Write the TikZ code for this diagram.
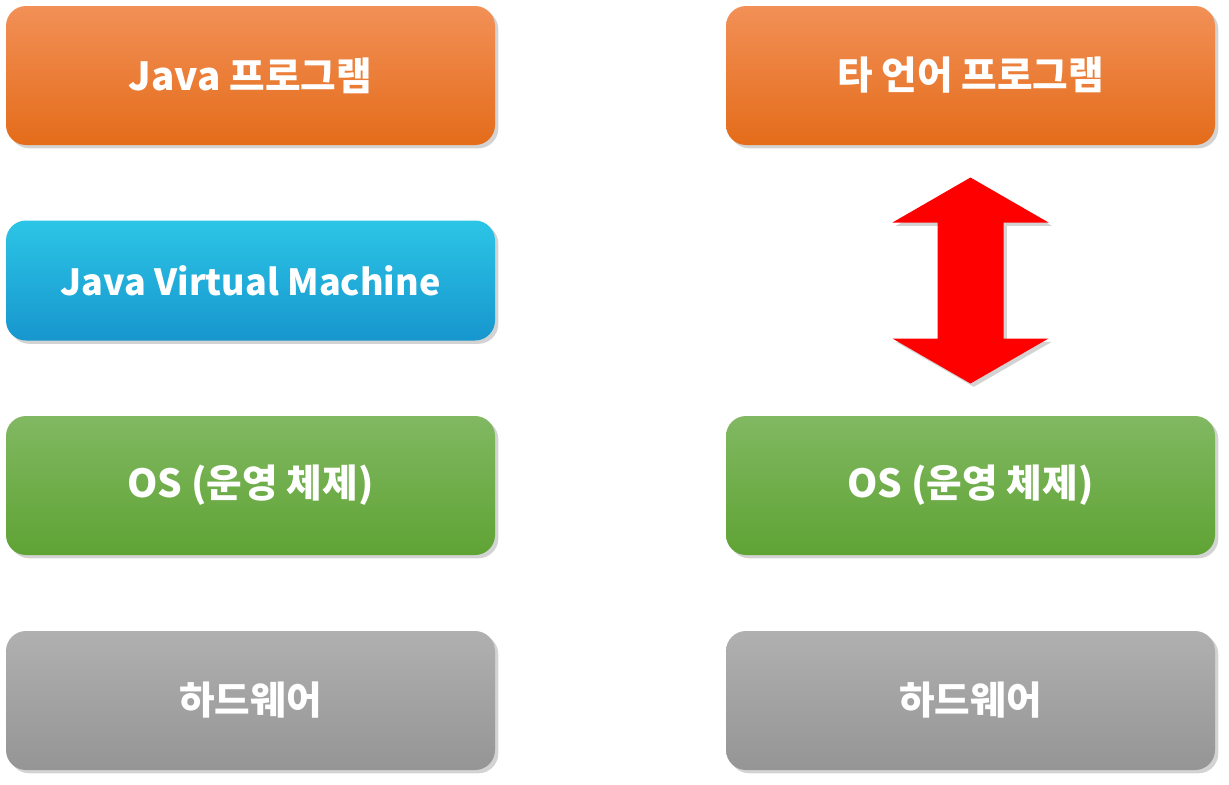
\documentclass[tikz,border=0pt]{standalone}
\usepackage{fontspec}
\newfontfamily\kofont{Noto Sans CJK KR}
\usetikzlibrary{shadows}
\definecolor{progtop}{HTML}{F29057}
\definecolor{progmid}{HTML}{F47B2A}
\definecolor{progbot}{HTML}{E46C1A}
\definecolor{vmtop}{HTML}{2CC5E6}
\definecolor{vmmid}{HTML}{02B0F0}
\definecolor{vmbot}{HTML}{1796CE}
\definecolor{ostop}{HTML}{81B862}
\definecolor{osmid}{HTML}{6CAF3E}
\definecolor{osbot}{HTML}{5FA334}
\definecolor{hwtop}{HTML}{B0B0B0}
\definecolor{hwbot}{HTML}{959595}

\begin{document}
\begin{tikzpicture}[x=0.75pt, y=-0.75pt]
        \tikzstyle{every node}=[rounded corners=15pt, minimum width=366.75pt, minimum height=104.25pt, inner sep=0pt, text=white, font=\kofont\bfseries\fontsize{29}{34}\selectfont, drop shadow={opacity=0.35, shadow xshift=2.5pt, shadow yshift=-2.5pt}]
        \tikzstyle{progbox}=[top color=progtop, middle color=progmid, bottom color=progbot]
        \tikzstyle{vmbox}=[top color=vmtop, middle color=vmmid, bottom color=vmbot, minimum height=90pt, font=\kofont\bfseries\fontsize{27}{32}\selectfont]
        \tikzstyle{osbox}=[top color=ostop, middle color=osmid, bottom color=osbot]
        \tikzstyle{hwbox}=[top color=hwtop, bottom color=hwbot]
        \useasboundingbox (0,0) rectangle (1229,785);
        % left column
        \node [progbox] (java) at (250.5,75.5) {Java 프로그램};
        \node [vmbox] (jvm) at (250.5,280.5) {Java Virtual Machine};
        \node [osbox] (osL) at (250.5,485.5) {OS (운영 체제)};
        \node [hwbox] (hwL) at (250.5,700.5) {하드웨어};
        % right column
        \node [progbox] (other) at (970.5,75.5) {타 언어 프로그램};
        \node [osbox] (osR) at (970.5,485.5) {OS (운영 체제)};
        \node [hwbox] (hwR) at (970.5,700.5) {하드웨어};
        % double arrow
        \path (other.south) -- (osR.north) coordinate[pos=0.5] (mid);
        \fill [red, drop shadow={opacity=0.35, shadow xshift=2.5pt, shadow yshift=-2.5pt}] (mid) ++(0,-103) -- ++(78,45) -- ++(-45,0) -- ++(0,116) -- ++(45,0) -- ++(-78,45) -- ++(-78,-45) -- ++(45,0) -- ++(0,-116) -- ++(-45,0) -- cycle;
    \end{tikzpicture}
\end{document}
